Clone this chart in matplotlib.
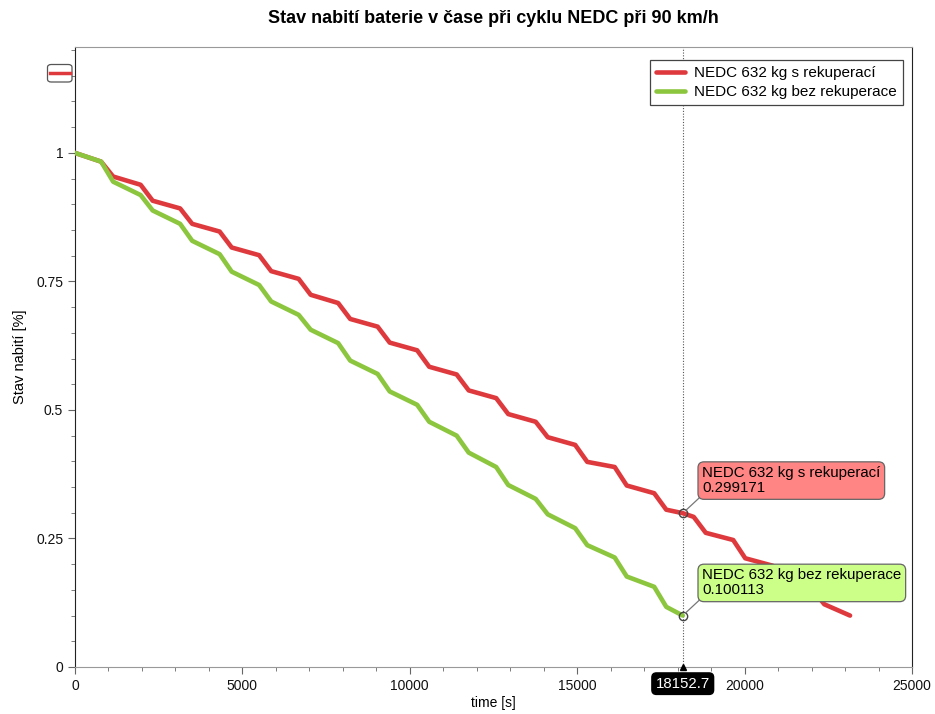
import matplotlib.pyplot as plt
from matplotlib.patches import FancyBboxPatch
from matplotlib.lines import Line2D
from matplotlib.ticker import MultipleLocator

plt.rcParams['font.family'] = ['Liberation Sans', 'DejaVu Sans']

# NEDC cycles: SOC at end of urban part and end of extra-urban part of each cycle
time_rek = [0, 780, 1140, 1960, 2320, 3140, 3500, 4320, 4680, 5500, 5860,
            6680, 7040, 7860, 8220, 9040, 9400, 10220, 10580, 11400, 11760,
            12580, 12940, 13760, 14120, 14940, 15300, 16120, 16480, 17300,
            17660, 18152.7, 18480, 18840, 19660, 20020, 20840, 21200, 22020,
            22380, 23150]
soc_rek = [1.0, 0.983, 0.954, 0.938, 0.907, 0.892, 0.862, 0.847, 0.816, 0.801,
           0.770, 0.755, 0.724, 0.708, 0.677, 0.662, 0.631, 0.616, 0.584, 0.569,
           0.538, 0.523, 0.492, 0.477, 0.447, 0.432, 0.399, 0.389, 0.353, 0.338,
           0.306, 0.299171, 0.292, 0.261, 0.247, 0.2115, 0.197, 0.167, 0.152,
           0.122, 0.100]

time_bez = [0, 780, 1140, 1960, 2320, 3140, 3500, 4320, 4680, 5500, 5860,
            6680, 7040, 7860, 8220, 9040, 9400, 10220, 10580, 11400, 11760,
            12580, 12940, 13760, 14120, 14940, 15300, 16120, 16480, 17300,
            17660, 18152.7]
soc_bez = [1.0, 0.983, 0.944, 0.918, 0.888, 0.862, 0.829, 0.803, 0.769, 0.743,
           0.711, 0.685, 0.656, 0.630, 0.596, 0.570, 0.536, 0.510, 0.477, 0.450,
           0.417, 0.389, 0.354, 0.327, 0.297, 0.270, 0.237, 0.213, 0.176, 0.156,
           0.117, 0.100113]

label_rek = "NEDC 632 kg s rekuperací"
label_bez = "NEDC 632 kg bez rekuperace"
cursor_t = 18152.7
cursor_rek = 0.299171
cursor_bez = 0.100113

red = "#de3a3e"
green = "#8cc63f"

fig = plt.figure(figsize=(9.35, 7.14), dpi=100)
ax = fig.add_axes([75 / 935, 47 / 714, 837 / 935, 620 / 714])

ax.plot(time_rek, soc_rek, color=red, lw=3.3, label=label_rek,
        solid_joinstyle="round", solid_capstyle="round", zorder=3)
ax.plot(time_bez, soc_bez, color=green, lw=3.3, label=label_bez,
        solid_joinstyle="round", solid_capstyle="round", zorder=4)

ax.set_xlim(0, 25000)
ax.set_ylim(0, 1.206)
ax.xaxis.set_major_locator(MultipleLocator(5000))
ax.xaxis.set_minor_locator(MultipleLocator(1000))
ax.yaxis.set_major_locator(MultipleLocator(0.25))
ax.yaxis.set_minor_locator(MultipleLocator(0.05))
ax.yaxis.set_major_formatter(plt.FuncFormatter(lambda v, p: f"{v:g}"))
ax.tick_params(which="major", length=5, color="#666", labelsize=10,
               labelcolor="#111")
ax.tick_params(which="minor", length=3, color="#666")

for side in ("left", "right"):
    ax.spines[side].set_color("#222")
for side in ("top", "bottom"):
    ax.spines[side].set_color("#999")

ax.set_title("Stav nabití baterie v čase při cyklu NEDC při 90 km/h",
             fontsize=13, fontweight="bold", pad=17)
ax.set_xlabel("time [s]", fontsize=10)
ax.xaxis.set_label_coords(0.5, -0.047)
ax.set_ylabel("Stav nabití [%]", fontsize=10.5)
ax.yaxis.set_label_coords(-0.057, 0.5)

leg = ax.legend(loc="upper right", bbox_to_anchor=(0.9892, 0.979),
                borderaxespad=0, fontsize=11, fancybox=False,
                edgecolor="#444", framealpha=1, handlelength=1.9,
                borderpad=0.4, labelspacing=0.32, handletextpad=0.6)
leg.get_frame().set_linewidth(0.9)

# cursor line with value readouts
ax.axvline(cursor_t, color="#555", lw=0.8, ls=(0, (1, 1.5)), zorder=2)
for val, face, name in [(cursor_rek, "#ff8484", label_rek),
                        (cursor_bez, "#ccff88", label_bez)]:
    ax.plot(cursor_t, val, "o", ms=6, mfc="none", mec="#444", mew=1, zorder=6)
    ax.annotate(f"{name}\n{val:g}", xy=(cursor_t, val), xytext=(14, 13),
                textcoords="offset points", ha="left", va="bottom",
                fontsize=10.8, linespacing=1.1, zorder=7,
                bbox=dict(boxstyle="round,pad=0.28,rounding_size=0.4",
                          fc=face, ec="#666", lw=0.9),
                arrowprops=dict(arrowstyle="-", color="#777", lw=0.9,
                                relpos=(0, 0), shrinkA=0, shrinkB=3))

ax.annotate(f"{cursor_t:g}", xy=(cursor_t, 0), xycoords="data",
            xytext=(0, -12), textcoords="offset points", ha="center",
            va="center", fontsize=10.8, color="white", annotation_clip=False,
            bbox=dict(boxstyle="round,pad=0.25,rounding_size=0.3", fc="black",
                      ec="black"))
ax.plot(cursor_t, 0, marker="^", ms=4, color="black", clip_on=False, zorder=8)

# small series toggle in the top-left corner
fig.patches.append(FancyBboxPatch((47.5 / 935, 1 - 82 / 714), 24.5 / 935,
                                  17.5 / 714, boxstyle="round,pad=0,rounding_size=0.004",
                                  transform=fig.transFigure, fc="white",
                                  ec="#555", lw=0.9))
fig.lines.append(Line2D([50 / 935, 70 / 935], [1 - 72.5 / 714, 1 - 72.5 / 714],
                        transform=fig.transFigure, color=red, lw=2.5))

fig.savefig("out.png", dpi=100)
